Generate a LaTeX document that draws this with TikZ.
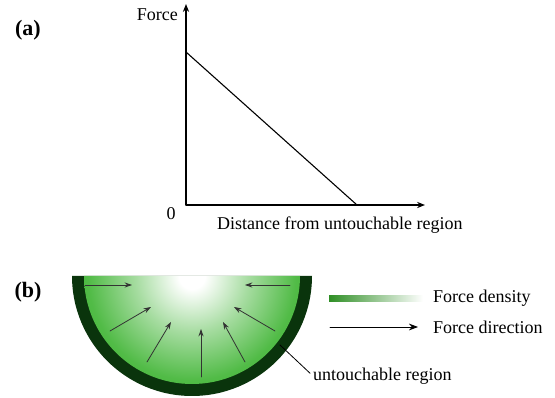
\documentclass[tikz,border=0pt]{standalone}
\usepackage{fontspec}
\setmainfont{Liberation Serif}
\usepackage{tikz}
\usetikzlibrary{arrows.meta,positioning}
\definecolor{lensgreen}{RGB}{58,178,46}
\definecolor{rimgreen}{RGB}{10,52,12}
\pgfdeclareradialshading{lensfade}{\pgfpointorigin}{color(0bp)=(white); color(3bp)=(white); color(13bp)=(lensgreen!45); color(24bp)=(lensgreen!88); color(32bp)=(lensgreen); color(70bp)=(lensgreen)}
\tikzset{
  every picture/.append style={line cap=round,line join=round},
  axis line/.style={line width=1.3pt,-{Stealth[length=2.8mm,width=2.2mm]}},
  force line/.style={line width=0.8pt,black!80,-{Stealth[length=2.6mm,width=1.8mm]}},
  label text/.style={font=\fontsize{18}{22}\selectfont,inner sep=0pt}
}
\begin{document}
\begin{tikzpicture}[x=1pt,y=-1pt,
  panel/.style={font=\fontsize{22}{26}\selectfont\bfseries,inner sep=0pt}
]
\useasboundingbox (0,0) rectangle (555,398);

% (a) force vs distance
\node[panel] (pa) at (28,30) {(a)};
\coordinate (origin) at (186,205);
\coordinate (ytip) at (186,4);
\coordinate (xtip) at (425,205);
\coordinate (fmax) at (186,52);
\coordinate (fzero) at (357,205);
\draw[axis line] (origin) -- (ytip);
\draw[axis line] (origin) -- (xtip);
\draw[line width=1.1pt] (fmax) -- (fzero);
\node[label text,anchor=east] (ylab) at (178,15) {Force};
\node[label text] (zero) at (171,214) {0};
\node[label text,anchor=west] (xlab) at (217,225) {Distance from untouchable region};

% (b) untouchable region
\node[panel] (pb) at (28,292) {(b)};
\coordinate (c) at (192,276);
\fill[rimgreen] (312,276) arc (0:180:120) -- cycle;
\begin{scope}
  \clip (300,276) arc (0:180:108) -- cycle;
  \shade[shading=lensfade] (c) circle (108);
\end{scope}

\draw[force line] (85,285) -- (132,285);
\draw[force line] (290,285) -- (245,285);
\draw[force line] (110,331) -- (151,307);
\draw[force line] (275,331) -- (234,307);
\draw[force line] (147,362) -- (171,322);
\draw[force line] (245,362) -- (223,322);
\draw[force line] (201,377) -- (201,329);

% legend
\shade[left color=lensgreen!80!black,middle color=lensgreen!70,right color=white] (329,296) rectangle (423,301.5);
\node[label text,anchor=west] (dens) at (433,298) {Force density};
\coordinate (dirstart) at (330,327);
\draw[line width=0.9pt,-{Stealth[length=3.2mm,width=2.4mm]}] (dirstart) -- (418,327);
\node[label text,anchor=west] (dir) at (433,327) {Force direction};
\node[label text,anchor=west] (rim) at (313,376) {untouchable region};
\coordinate (rimpt) at (280,345);
\draw[line width=0.8pt,shorten >=4pt] (rimpt) -- (rim.west);
\end{tikzpicture}
\end{document}
